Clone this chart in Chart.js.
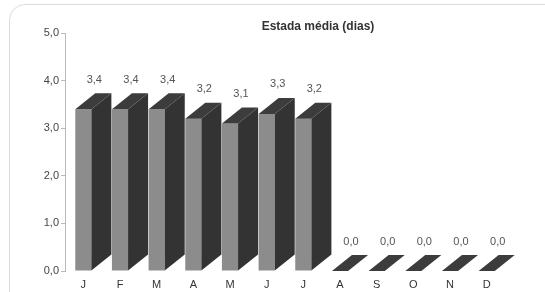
<!DOCTYPE html>
<html>
<head>
<meta charset="utf-8">
<script src="https://cdn.jsdelivr.net/npm/chart.js@4.4.0/dist/chart.umd.min.js"></script>
<style>
  html, body { margin: 0; padding: 0; background: #fff; }
  #wrap { position: relative; width: 545px; height: 292px; overflow: hidden; }
  #frame {
    position: absolute; left: 9px; top: 4px; width: 600px; height: 400px;
    border: 1px solid #dcdcdc; border-radius: 16px; box-sizing: border-box;
  }
  canvas { position: absolute; left: 0; top: 0; }
</style>
</head>
<body>
<div id="wrap">
  <div id="frame"></div>
  <canvas id="chart" width="545" height="292"></canvas>
</div>
<script>
// Data
const months = ['J', 'F', 'M', 'A', 'M', 'J', 'J', 'A', 'S', 'O', 'N', 'D'];
const stay = [3.4, 3.4, 3.4, 3.2, 3.1, 3.3, 3.2, 0, 0, 0, 0, 0];
const yTicks = [0, 1, 2, 3, 4, 5];
const chartTitle = 'Estada média (dias)';

const font = 'Liberation Sans, Arial, sans-serif';
const textColor = '#444';
const frontColor = '#8c8c8c';
const sideColor = '#333333';
const topColor = '#3c3c3c';

// depth of the fake 3D extrusion
const depthX = 20;
const depthY = 16;

function fmt(v) {
    return v.toFixed(1).replace('.', ',');
}

// Draws the side and top faces plus value labels from the bar elements
const bars3d = {
    id: 'bars3d',
    afterDatasetsDraw(chart) {
        const ctx = chart.ctx;
        const meta = chart.getDatasetMeta(0);
        ctx.save();
        meta.data.forEach((bar, i) => {
            const half = bar.width / 2;
            const left = bar.x - half;
            const right = bar.x + half;
            const top = bar.y;
            const base = bar.base;

            // side face
            if (base - top > 0) {
                ctx.fillStyle = sideColor;
                ctx.beginPath();
                ctx.moveTo(right, top);
                ctx.lineTo(right + depthX, top - depthY);
                ctx.lineTo(right + depthX, base - depthY);
                ctx.lineTo(right, base);
                ctx.closePath();
                ctx.fill();
            }

            // top face
            ctx.fillStyle = topColor;
            ctx.beginPath();
            ctx.moveTo(left, top);
            ctx.lineTo(left + depthX, top - depthY);
            ctx.lineTo(right + depthX, top - depthY);
            ctx.lineTo(right, top);
            ctx.closePath();
            ctx.fill();

            // value label
            ctx.fillStyle = '#555';
            ctx.font = '11px ' + font;
            ctx.textAlign = 'center';
            ctx.textBaseline = 'bottom';
            ctx.fillText(fmt(stay[i]), bar.x + depthX / 2 + 1, top - depthY - 8);
        });

        // title
        ctx.fillStyle = '#333';
        ctx.font = 'bold 12px ' + font;
        ctx.textAlign = 'center';
        ctx.textBaseline = 'middle';
        ctx.fillText(chartTitle, 318, 27);
        ctx.restore();
    }
};

const ctx = document.getElementById('chart').getContext('2d');
new Chart(ctx, {
    type: 'bar',
    data: {
        labels: months,
        datasets: [{
            data: stay,
            backgroundColor: frontColor,
            borderWidth: 0,
            barPercentage: 0.44,
            categoryPercentage: 1.0
        }]
    },
    options: {
        responsive: false,
        animation: false,
        layout: { padding: { left: 2, right: 40, top: 33, bottom: 0 } },
        plugins: {
            legend: { display: false },
            tooltip: { enabled: false }
        },
        scales: {
            x: {
                grid: { display: false, drawTicks: false },
                border: { display: false },
                ticks: {
                    color: '#333',
                    font: { family: font, size: 11 },
                    padding: 7,
                    maxRotation: 0,
                    autoSkip: false
                },
                afterFit(scale) { scale.height = 21; }
            },
            y: {
                min: 0,
                max: 5,
                afterBuildTicks(scale) {
                    scale.ticks = yTicks.map(v => ({ value: v }));
                },
                grid: {
                    display: true,
                    drawOnChartArea: false,
                    drawTicks: true,
                    tickLength: 4,
                    color: '#bbb'
                },
                border: { display: true, color: '#bbb' },
                ticks: {
                    color: '#444',
                    font: { family: font, size: 11 },
                    padding: 2,
                    callback: v => fmt(v)
                },
                afterFit(scale) { scale.width = 63; }
            }
        }
    },
    plugins: [bars3d]
});
</script>
</body>
</html>
